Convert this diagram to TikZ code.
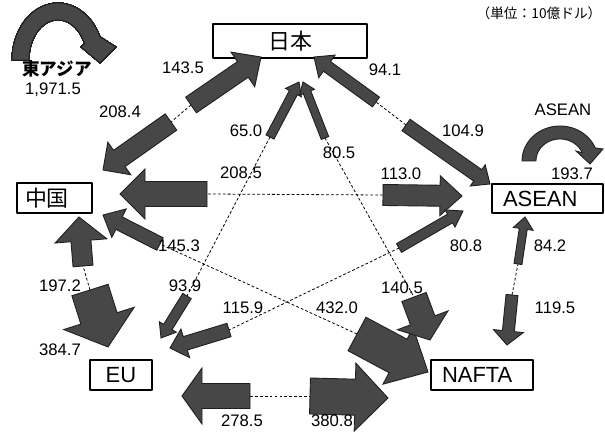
\documentclass[tikz,border=0pt]{standalone}
\usepackage{fontspec}
\setmainfont{Liberation Sans}
\newfontfamily\jpfont{Noto Sans CJK JP}
\usetikzlibrary{calc}
\tikzset{
  region/.style={draw, line width=1.4pt, inner sep=0pt, font=\fontsize{12.5}{14}\selectfont},
  val/.style={inner sep=0pt, font=\fontsize{9.5}{11}\selectfont},
  flowbody/.style={fill=black!72, draw=black!88, line width=0.5pt, line join=miter},
  pairline/.style={line width=0.45pt, dash pattern=on 1.6pt off 1.2pt},
}
% block arrow: tail, tip, half shaft, half head, head length (in px)
\newcommand\flow[5]{%
  \coordinate (hb) at ($(#2)!#5*0.02cm!(#1)$);
  \draw[flowbody] ($(#1)!#3*0.02cm!90:(#2)$) -- ($(hb)!#3*0.02cm!-90:(#1)$)
    -- ($(hb)!#4*0.02cm!-90:(#1)$) -- (#2) -- ($(hb)!#4*0.02cm!90:(#1)$)
    -- ($(hb)!#3*0.02cm!90:(#1)$) -- ($(#1)!#3*0.02cm!-90:(#2)$) -- cycle;}
\begin{document}
\begin{tikzpicture}[x=0.02cm, y=-0.02cm, line join=round]
\useasboundingbox (0,0) rectangle (605,432);
% regions
\node[region, minimum width=3.08cm, minimum height=0.68cm] (japan) at (290,41) {\jpfont 日本};
\node[region, text width=1.18cm, inner xsep=0.16cm, minimum height=0.6cm, align=left] (china) at (54.5,198) {\jpfont 中国};
\node[region, text width=1.78cm, inner xsep=0.22cm, minimum height=0.58cm, align=left] (asean) at (547.5,198.5) {ASEAN};
\node[region, minimum width=1.24cm, minimum height=0.6cm] (eu) at (121,375) {EU};
\node[region, text width=1.6cm, inner xsep=0.22cm, minimum height=0.6cm, align=left] (nafta) at (482,375) {NAFTA};
% flow ends
\foreach \nm/\tx/\ty/\px/\py in {
  cj/191/105/261/57, jc/171/122/103/170,
  ca/383/195/462/196, ac/207/194/120/194,
  ja/406/125/490/184, aj/376/102/314/57,
  ej/270/137/299/82, je/187/296/161/338,
  nj/325/138/303/82, ea/399/248/463/211,
  ae/229/330/170/348, nc/160/244/103/215,
  ce/90/290/108/347, ec/83/266/79/217,
  ne/250/396/182/396, en/310/396/388/398,
  cn/357/334/428/372, jn/414/297/430/340,
  an/512/295/507/345, na/518/264/525/217}
{
  \coordinate (\nm-t) at (\tx,\ty);
  \coordinate (\nm-h) at (\px,\py);
}
\foreach \p/\q in {cj/jc, ca/ac, ja/aj, ej/je, nj/jn, cn/nc, ea/ae, ce/ec, ne/en, an/na}
  \draw[pairline] (\p-t) -- (\q-t);
\foreach \nm/\sw/\hw/\hl in {cj/9.5/21/22, jc/10/20/20, ca/10.5/20/22, ac/12.5/25/25,
  ja/7/13/15, aj/6/14/16, ej/4.5/9/12, je/5/10/13, nj/4/8/11, ea/5/10/15,
  ae/7/15/16, nc/7/16/18, ce/19/37/30, ec/10/26/24, ne/12.5/28/20,
  en/18/34/33, cn/19/32/34, jn/13/27/21, an/6/15/14, na/4/10/12}
  \flow{\nm-t}{\nm-h}{\sw}{\hw}{\hl}
% intra-regional loops
\draw[flowbody] plot[domain=180:336, samples=40] ({58+46*cos(\x)},{60+57*sin(\x)})
  -- (116,47) -- (100,63) -- (81,47)
  -- plot[domain=336:180, samples=40] ({58+29*cos(\x)},{60+40*sin(\x)}) -- cycle;
\draw[flowbody] plot[domain=180:338, samples=40] ({560+38*cos(\x)},{161+35*sin(\x)})
  -- (603,149) -- (590,164) -- (576,151)
  -- plot[domain=338:180, samples=40] ({560+24*cos(\x)},{161+22*sin(\x)}) -- cycle;
% labels
\node[val, font=\fontsize{10}{12}\selectfont\jpfont\bfseries] (eastasia) at (57,69) {東アジア};
\node[val] (eastasiaval) at (53,90) {1,971.5};
\node[val] (aseanloop) at (563,110) {ASEAN};
\node[val, font=\fontsize{7.8}{9}\selectfont\jpfont] (unit) at (539,13) {（単位：10億ドル）};
\foreach \lab/\x/\y [count=\i] in {143.5/183/68, 208.4/120/112, 65.0/246/131,
  80.5/339/153, 94.1/385/70, 104.9/463/131, 208.5/241/173, 113.0/401/174,
  145.3/179/246, 80.8/466/246, 84.2/550/246, 197.2/60/286, 93.9/185/286,
  115.9/243/308, 432.0/337/308, 140.5/402/288, 119.5/555/308, 384.7/60/350,
  278.5/242/421, 380.8/332/421, 193.7/572/174}
  \node[val] (v\i) at (\x,\y) {\lab};
\end{tikzpicture}
\end{document}
